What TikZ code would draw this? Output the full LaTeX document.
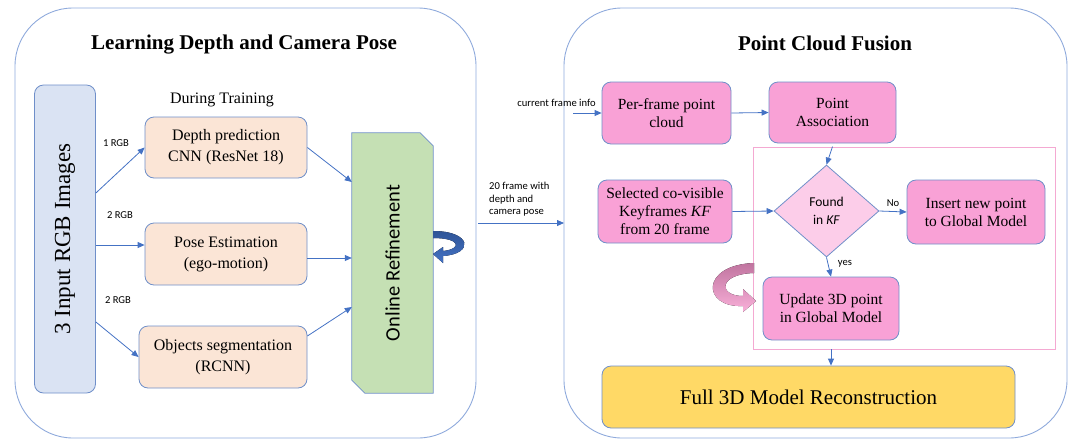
\documentclass[tikz,border=0pt]{standalone}
\usepackage{fontspec}
\setmainfont{Liberation Serif}
\newfontfamily\labelfont{Carlito}
\usetikzlibrary{arrows.meta,shapes.geometric,backgrounds,positioning}

\definecolor{panelblue}{HTML}{8FAADC}
\definecolor{edgeblue}{HTML}{6F8FC9}
\definecolor{arrowblue}{HTML}{4472C4}
\definecolor{inputblue}{HTML}{DAE3F3}
\definecolor{peach}{HTML}{FBE5D6}
\definecolor{refgreen}{HTML}{C5E0B4}
\definecolor{fusionpink}{HTML}{F9A1D6}
\definecolor{lightpink}{HTML}{FCCDE9}
\definecolor{zonepink}{HTML}{F4A9D2}
\definecolor{modelgold}{HTML}{FFD966}
\definecolor{loopblue}{HTML}{2F5597}
\definecolor{loopdark}{HTML}{C0749F}
\definecolor{looplight}{HTML}{F9B0D9}

\begin{document}
\begin{tikzpicture}[x=1pt,y=-1pt,>={Triangle[length=7pt,width=6pt]}]
    \tikzstyle{panel}=[draw=panelblue, line width=0.9pt, rounded corners=58pt]
    \tikzstyle{stage}=[draw=edgeblue, fill=peach, rounded corners=9pt, line width=0.8pt,
        align=center, inner sep=0pt, font=\fontsize{16}{21}\selectfont]
    \tikzstyle{fusion}=[stage, fill=fusionpink, font=\fontsize{15.5}{18}\selectfont]
    \tikzstyle{decision}=[diamond, draw=edgeblue, fill=lightpink, line width=0.8pt,
        inner sep=0pt, align=center, font=\labelfont\fontsize{13.5}{18}\selectfont]
    \tikzstyle{tag}=[font=\labelfont\fontsize{10.6}{12.5}\selectfont, inner sep=0pt]
    \tikzstyle{flow}=[->, draw=arrowblue, line width=0.8pt]

    \useasboundingbox (0,0) rectangle (1072,440);

    % the two stages
    \draw[panel] (15,8) rectangle (476,438);
    \draw[panel] (564,8) rectangle (1067,438);
    \node[font=\fontsize{21}{25}\selectfont\bfseries] (learntitle) at (244,45) {Learning Depth and Camera Pose};
    \node[font=\fontsize{21}{25}\selectfont\bfseries] (fusiontitle) at (825,43) {Point Cloud Fusion};

    % learning side
    \node[stage, fill=inputblue, minimum width=61pt, minimum height=308pt,
        font=\fontsize{23}{27}\selectfont] (images) at (65,239) {\rotatebox{90}{3 Input RGB Images}};
    \node[font=\fontsize{16}{20}\selectfont] (training) at (222,100) {During Training};
    \node[stage, minimum width=162pt, minimum height=61pt] (depth) at (226,147.5) {Depth prediction\\CNN (ResNet 18)};
    \node[stage, minimum width=162pt, minimum height=62pt] (pose) at (226,254) {Pose Estimation\\(ego-motion)};
    \node[stage, minimum width=168pt, minimum height=62pt] (objseg) at (223,357) {Objects segmentation\\(RCNN)};
    \node[minimum width=81pt, minimum height=260pt, inner sep=0pt,
        font=\labelfont\fontsize{20.5}{24}\selectfont] (online) at (392.5,263) {\rotatebox{90}{Online Refinement}};
    \begin{scope}[on background layer]
        \draw[draw=edgeblue, fill=refgreen, line width=0.8pt]
            (online.north west) -- ([xshift=-13pt]online.north east) -- ([yshift=-13pt]online.north east)
            -- (online.south east) -- ([xshift=13pt]online.south west) -- ([yshift=13pt]online.south west) -- cycle;
    \end{scope}

    \node[tag] (rgb1) at (116,143) {1 RGB};
    \node[tag] (rgb2) at (120,215) {2 RGB};
    \node[tag] (rgb3) at (118,300) {2 RGB};

    \draw[flow] (images.east |- 0,193) -- (depth.west);
    \draw[flow] (images.east |- 0,245) -- (pose.west |- 0,245);
    \draw[flow] (images.east |- 0,322) -- (objseg.west);
    \draw[flow] (depth.east) -- (online.west |- 0,182);
    \draw[flow] (pose.east |- 0,258) -- (online.west |- 0,258);
    \draw[flow] (objseg.east |- 0,336) -- (online.west |- 0,307);

    \fill[top color=loopblue, bottom color=arrowblue]
        (433,231) .. controls (472,231) and (474,254) .. (443,256) -- (443,263) -- (433,254)
        -- (443,247) -- (443,251) .. controls (462,249) and (461,238) .. (433,238) -- cycle;

    % hand-over between the stages
    \node[tag, align=left, anchor=north west] (frames) at (489,182) {20 frame with\\depth and\\camera pose};
    \coordinate (framesin) at (478,223);
    \coordinate (framesout) at (564,223);
    \draw[flow] (framesin) -- (framesout);

    % fusion side
    \node[tag] (current) at (556.5,103) {current frame info};
    \coordinate (currentin) at (573,113);
    \node[fusion, minimum width=129pt, minimum height=62pt] (perframe) at (666.5,113) {Per-frame point\\cloud};
    \node[fusion, minimum width=127pt, minimum height=61pt] (assoc) at (832.5,112.5) {Point\\Association};
    \node[draw=zonepink, line width=0.8pt, minimum width=302pt, minimum height=202pt, inner sep=0pt] (zone) at (904,248) {};
    \node[fusion, minimum width=134pt, minimum height=63pt] (selected) at (665,211.5) {Selected co-visible\\Keyframes \textit{KF}\\from 20 frame};
    \node[decision, minimum width=105pt, minimum height=92pt] (found) at (826.5,211) {Found\\in \textit{KF}};
    \node[fusion, minimum width=138pt, minimum height=64pt] (insert) at (976,212) {Insert new point\\to Global Model};
    \node[fusion, minimum width=136pt, minimum height=63pt] (update) at (831,308.5) {Update 3D point\\in Global Model};
    \node[stage, fill=modelgold, minimum width=413pt, minimum height=62pt,
        font=\fontsize{21}{25}\selectfont] (full) at (808.5,397) {Full 3D Model Reconstruction};
    \node[tag] (no) at (893,203) {No};
    \node[tag] (yes) at (845,264) {yes};

    \draw[flow] (currentin) -- (perframe.west);
    \draw[flow] (perframe.east) -- (assoc.west);
    \draw[flow] (assoc.south |- zone.north) -- (found.north);
    \draw[flow] (selected.east) -- (found.west);
    \draw[flow] (found.east) -- (insert.west);
    \draw[flow] (found.south) -- (update.north);
    \draw[flow] (zone.south -| update.south) -- (full.north -| update.south);

    \fill[top color=loopdark, bottom color=looplight]
        (754,263) .. controls (700,265) and (702,308) .. (743,306) -- (743,312) -- (756,301)
        -- (743,289) -- (743,296) .. controls (718,296) and (718,274) .. (754,273) -- cycle;
\end{tikzpicture}
\end{document}
